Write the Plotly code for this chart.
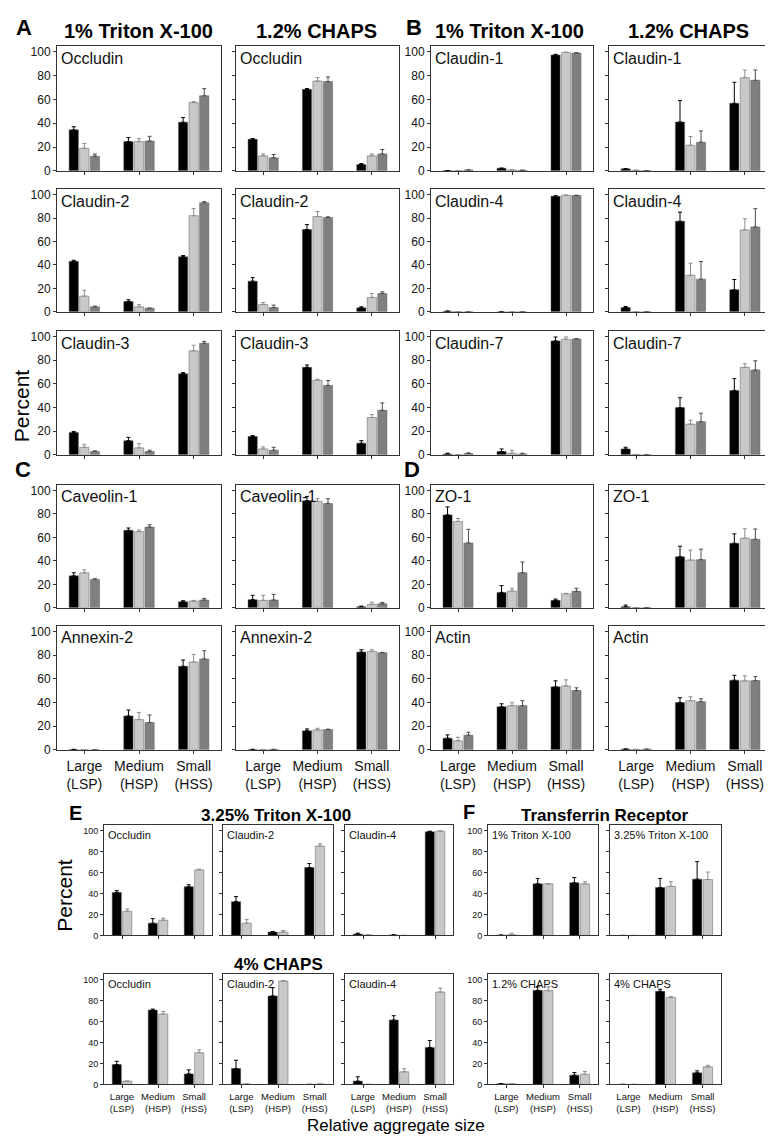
import plotly.graph_objects as go

W, H = 773, 1137
FONT = "Liberation Sans, Arial, sans-serif"

categories = ["Large<br>(LSP)", "Medium<br>(HSP)", "Small<br>(HSS)"]
y_ticks = [0, 20, 40, 60, 80, 100]
bar_colors = ["#000000", "#c8c8c8", "#7f7f7f"]
err_colors = ["#000000", "#8c8c8c", "#4a4a4a"]

# ---- values: [black, light grey, dark grey] x [Large, Medium, Small] ----
occludin_tx = [[34.4, 24.6, 40.8], [19, 24.6, 57.3], [12.3, 25, 63]]
occludin_tx_err = [[2.6, 3.4, 3.9], [4, 2.4, 0.8], [1.8, 4, 6]]
occludin_ch = [[26.5, 68.4, 5.3], [12.6, 75.4, 12.6], [10.9, 74.9, 14.2]]
occludin_ch_err = [[0.6, 0.6, 0.8], [1.6, 2.8, 1.6], [2.8, 3.9, 3.7]]
claudin2_tx = [[43.2, 8.9, 47], [13.4, 4.3, 82], [4.3, 3.1, 93]]
claudin2_tx_err = [[0.8, 1.4, 1], [5, 2, 6], [0.6, 0, 1]]
claudin2_ch = [[26.2, 70.2, 3.4], [6.3, 81.3, 12.3], [3.7, 80.5, 15.7]]
claudin2_ch_err = [[3, 4.2, 0.9], [1.7, 4.2, 3.4], [2, 0.5, 1.4]]
claudin3_tx = [[19, 12, 68.7], [6.4, 5.9, 88], [2.8, 2.8, 94.4]]
claudin3_tx_err = [[0.8, 2.8, 0.9], [2.5, 3.6, 4.7], [0.6, 1.1, 1.6]]
claudin3_ch = [[15.6, 74, 9.8], [5, 63.1, 31.6], [3.9, 58.7, 37.7]]
claudin3_ch_err = [[0.6, 2, 2.2], [1.7, 0.9, 2.4], [2.5, 4.1, 6.2]]
caveolin1_tx = [[27.2, 66, 5.1], [29.8, 64.9, 5.7], [24.2, 68.8, 6.6]]
caveolin1_tx_err = [[2.6, 2, 0.9], [2.5, 1.4, 0.6], [0.5, 2, 1.4]]
caveolin1_ch = [[6.9, 91.3, 0.9], [6.3, 90.7, 2.9], [6.6, 89, 3.4]]
caveolin1_ch_err = [[3.7, 3.7, 0.5], [4.3, 2.3, 1.7], [4.8, 4, 1.2]]
annexin2_tx = [[0.3, 28.6, 70.6], [0, 25.5, 74.2], [0, 23, 76.8]]
annexin2_tx_err = [[0, 5, 5.3], [0, 6.1, 6.5], [0, 6.4, 7]]
annexin2_ch = [[0.3, 16, 82.6], [0, 16.8, 83.2], [0.3, 17.1, 82.1]]
annexin2_ch_err = [[0, 1.6, 2], [0, 1.4, 1.4], [0, 0.3, 0.3]]
claudin1_tx = [[0.3, 2.2, 97.2], [0, 0.8, 99.4], [0.8, 0.5, 98.9]]
claudin1_tx_err = [[0, 0, 0.6], [0, 0, 0.2], [0, 0, 0.3]]
claudin1_ch = [[1.7, 41, 56.7], [0.5, 21.5, 78.2], [0.2, 24, 76]]
claudin1_ch_err = [[0, 18, 17.6], [0, 7.3, 6.4], [0, 9.5, 8.6]]
claudin4_tx = [[0.6, 0, 98.6], [0.2, 0, 99.4], [0, 0, 99.2]]
claudin4_tx_err = [[0, 0, 0.4], [0, 0, 0.2], [0, 0, 0.3]]
claudin4_ch = [[3.7, 77.2, 18.9], [0, 31.2, 69.9], [0, 27.9, 72.4]]
claudin4_ch_err = [[0.9, 7.8, 8.7], [0, 10.3, 9.5], [0, 15, 15.6]]
claudin7_tx = [[0.8, 2.8, 96.4], [0, 1.4, 97.8], [1.1, 0.8, 98]]
claudin7_tx_err = [[0.6, 2.2, 3.3], [0, 2.5, 1.9], [0.6, 0.6, 0.3]]
claudin7_ch = [[5, 40, 54.5], [0.3, 26, 74], [0, 28, 71.8]]
claudin7_ch_err = [[1.4, 8.3, 10], [0, 3.3, 3.1], [0, 7.2, 7.8]]
zo1_tx = [[79.2, 13.1, 6.3], [73.6, 14.3, 12], [55.3, 29.8, 14]]
zo1_tx_err = [[6.8, 5.8, 1.1], [2.5, 2.3, 0.3], [11.6, 9.2, 2.6]]
zo1_ch = [[0.9, 43.5, 55], [0, 40.7, 59.3], [0, 41, 58.4]]
zo1_ch_err = [[1.4, 9, 8], [0, 8.5, 8.1], [0, 9, 8.7]]
actin_tx = [[9.8, 36.4, 53.2], [7.6, 37.3, 54], [12.3, 37.3, 50.1]]
actin_tx_err = [[2.8, 2.5, 5.1], [3, 2.5, 5.1], [2.5, 4.2, 2.3]]
actin_ch = [[0.6, 40, 58.8], [0.3, 41.5, 58.3], [0.5, 40.6, 58.5]]
actin_ch_err = [[0, 4, 4.2], [0, 3.3, 4.2], [0, 2.5, 3.4]]

# ---- bottom panels: [black, light grey] ----
e_occludin_tx325 = [[41, 11.7, 46.4], [23, 14.5, 62.5]]
e_occludin_tx325_err = [[1.6, 4.3, 1.9], [2.2, 1.9, 0.6]]
e_claudin2_tx325 = [[32.2, 3.2, 64.7], [11.7, 3.2, 85.2]]
e_claudin2_tx325_err = [[4.8, 0.6, 3.8], [3.4, 1.5, 2.2]]
e_claudin4_tx325 = [[1.3, 0.5, 98.8], [0.5, 0, 99.3]]
e_claudin4_tx325_err = [[0.9, 0, 0.5], [0, 0, 0.3]]
e_occludin_ch4 = [[18.9, 70.8, 10], [3.1, 67, 30.2]]
e_occludin_ch4_err = [[3.1, 0.9, 3.8], [0, 2.5, 2.8]]
e_claudin2_ch4 = [[15.1, 84.3, 0], [0.3, 98.4, 0.3]]
e_claudin2_ch4_err = [[7.9, 7.8, 0], [0, 0.6, 0]]
e_claudin4_ch4 = [[3.1, 61.3, 35.2], [0, 12, 88]]
e_claudin4_ch4_err = [[4.1, 4.1, 6.6], [0, 3, 3.8]]
f_tfr_tx1 = [[0.3, 49.2, 50.2], [0.6, 49.2, 49.2]]
f_tfr_tx1_err = [[0, 5.1, 5], [1.6, 0, 1.9]]
f_tfr_tx325 = [[0, 45.7, 53.6], [0, 46.7, 53.3]]
f_tfr_tx325_err = [[0, 8.6, 16.7], [0, 4.4, 7]]
f_tfr_ch12 = [[0.6, 89.6, 8.8], [0.6, 89.3, 9.7]]
f_tfr_ch12_err = [[0, 3.4, 2.5], [0, 3.7, 2.6]]
f_tfr_ch4 = [[0, 88.7, 11], [0, 82.7, 16.7]]
f_tfr_ch4_err = [[0, 1.9, 1.9], [0, 0.9, 1.5]]

# ---- layout geometry (pixels) ----
top_cols = [(49, 213), (228, 391), (423, 585), (601, 764)]
top_rows = [(37, 163), (181, 305), (324, 449), (479, 603), (621, 746)]
bot_cols = [(96, 204), (215, 325), (337, 445), (480, 590), (602, 713)]
bot_rows = [(822, 933), (972, 1083)]

top_panels = [
    ("Occludin", occludin_tx, occludin_tx_err, 0, 0),
    ("Occludin", occludin_ch, occludin_ch_err, 1, 0),
    ("Claudin-2", claudin2_tx, claudin2_tx_err, 0, 1),
    ("Claudin-2", claudin2_ch, claudin2_ch_err, 1, 1),
    ("Claudin-3", claudin3_tx, claudin3_tx_err, 0, 2),
    ("Claudin-3", claudin3_ch, claudin3_ch_err, 1, 2),
    ("Caveolin-1", caveolin1_tx, caveolin1_tx_err, 0, 3),
    ("Caveolin-1", caveolin1_ch, caveolin1_ch_err, 1, 3),
    ("Annexin-2", annexin2_tx, annexin2_tx_err, 0, 4),
    ("Annexin-2", annexin2_ch, annexin2_ch_err, 1, 4),
    ("Claudin-1", claudin1_tx, claudin1_tx_err, 2, 0),
    ("Claudin-1", claudin1_ch, claudin1_ch_err, 3, 0),
    ("Claudin-4", claudin4_tx, claudin4_tx_err, 2, 1),
    ("Claudin-4", claudin4_ch, claudin4_ch_err, 3, 1),
    ("Claudin-7", claudin7_tx, claudin7_tx_err, 2, 2),
    ("Claudin-7", claudin7_ch, claudin7_ch_err, 3, 2),
    ("ZO-1", zo1_tx, zo1_tx_err, 2, 3),
    ("ZO-1", zo1_ch, zo1_ch_err, 3, 3),
    ("Actin", actin_tx, actin_tx_err, 2, 4),
    ("Actin", actin_ch, actin_ch_err, 3, 4),
]
bottom_panels = [
    ("Occludin", e_occludin_tx325, e_occludin_tx325_err, 0, 0),
    ("Claudin-2", e_claudin2_tx325, e_claudin2_tx325_err, 1, 0),
    ("Claudin-4", e_claudin4_tx325, e_claudin4_tx325_err, 2, 0),
    ("Occludin", e_occludin_ch4, e_occludin_ch4_err, 0, 1),
    ("Claudin-2", e_claudin2_ch4, e_claudin2_ch4_err, 1, 1),
    ("Claudin-4", e_claudin4_ch4, e_claudin4_ch4_err, 2, 1),
    ("1% Triton X-100", f_tfr_tx1, f_tfr_tx1_err, 3, 0),
    ("3.25% Triton X-100", f_tfr_tx325, f_tfr_tx325_err, 4, 0),
    ("1.2% CHAPS", f_tfr_ch12, f_tfr_ch12_err, 3, 1),
    ("4% CHAPS", f_tfr_ch4, f_tfr_ch4_err, 4, 1),
]

fig = go.Figure()
layout = {}
annotations = []


def px(x):
    return x / W


def py(y):
    return 1 - y / H


def add_panel(idx, label, vals, errs, xr, yr, show_ylabels, show_xlabels,
              tick_font, label_font, cat_font):
    xa = "x" if idx == 1 else f"x{idx}"
    ya = "y" if idx == 1 else f"y{idx}"
    for s, (v, e) in enumerate(zip(vals, errs)):
        fig.add_trace(go.Bar(
            x=[0, 1, 2], y=v, xaxis=xa, yaxis=ya,
            marker=dict(color=bar_colors[s], line=dict(color="#606060", width=0.5)),
            error_y=dict(type="data", symmetric=False, array=e,
                         arrayminus=[0, 0, 0], color=err_colors[s],
                         thickness=1, width=2),
            showlegend=False,
        ))
    key = "" if idx == 1 else str(idx)
    layout["xaxis" + key] = dict(
        domain=[px(xr[0]), px(xr[1])], anchor=ya, range=[-0.5, 2.5],
        tickvals=[0, 1, 2], ticktext=categories, showticklabels=show_xlabels,
        ticks="outside", ticklen=3, tickcolor="#333", showline=True,
        mirror=True, linecolor="#333", linewidth=1, showgrid=False,
        zeroline=False, tickfont=dict(size=cat_font, color="#111", family=FONT),
        fixedrange=True,
    )
    layout["yaxis" + key] = dict(
        domain=[py(yr[1]), py(yr[0])], anchor=xa, range=[0, 105],
        tickvals=y_ticks, showticklabels=show_ylabels, ticks="outside",
        ticklen=3, tickcolor="#333", showline=True, mirror=True,
        linecolor="#333", linewidth=1, showgrid=False, zeroline=False,
        tickfont=dict(size=tick_font, color="#111", family=FONT),
        fixedrange=True,
    )
    annotations.append(dict(
        text=label, xref=f"{xa} domain", yref=f"{ya} domain", x=0.015, y=0.985,
        xanchor="left", yanchor="top", showarrow=False,
        font=dict(size=label_font, color="#111", family=FONT),
    ))


idx = 1
for label, vals, errs, c, r in top_panels:
    add_panel(idx, label, vals, errs, top_cols[c], top_rows[r],
              show_ylabels=(c in (0, 2)), show_xlabels=(r == 4),
              tick_font=12, label_font=16, cat_font=14)
    idx += 1
for label, vals, errs, c, r in bottom_panels:
    add_panel(idx, label, vals, errs, bot_cols[c], bot_rows[r],
              show_ylabels=(c in (0, 3)), show_xlabels=(r == 1),
              tick_font=9, label_font=11, cat_font=9.5)
    idx += 1


def txt(text, x, y, size, bold=False, angle=0):
    annotations.append(dict(
        text=f"<b>{text}</b>" if bold else text, xref="paper", yref="paper",
        x=px(x), y=py(y), xanchor="center", yanchor="middle", showarrow=False,
        textangle=angle, font=dict(size=size, color="#000", family=FONT),
    ))


txt("A", 16, 19, 22, bold=True)
txt("B", 406, 19, 22, bold=True)
txt("C", 15, 464, 22, bold=True)
txt("D", 404, 464, 22, bold=True)
txt("E", 67, 810, 20, bold=True)
txt("F", 461, 809, 20, bold=True)
txt("1% Triton X-100", 130, 22, 20, bold=True)
txt("1.2% CHAPS", 308, 22, 20, bold=True)
txt("1% Triton X-100", 501, 22, 20, bold=True)
txt("1.2% CHAPS", 680, 22, 20, bold=True)
txt("3.25% Triton X-100", 268, 812, 17, bold=True)
txt("4% CHAPS", 270, 962, 17, bold=True)
txt("Transferrin Receptor", 597, 812, 17, bold=True)
txt("Percent", 13, 400, 21, angle=-90)
txt("Percent", 57, 893, 21, angle=-90)
txt("Relative aggregate size", 388, 1124, 17)

layout.update(dict(
    width=W, height=H, margin=dict(l=0, r=0, t=0, b=0),
    paper_bgcolor="white", plot_bgcolor="white",
    barmode="group", bargap=0.42, bargroupgap=0.12,
    annotations=annotations, showlegend=False,
    font=dict(family=FONT),
))
fig.update_layout(**layout)
fig.write_html("out.html")
